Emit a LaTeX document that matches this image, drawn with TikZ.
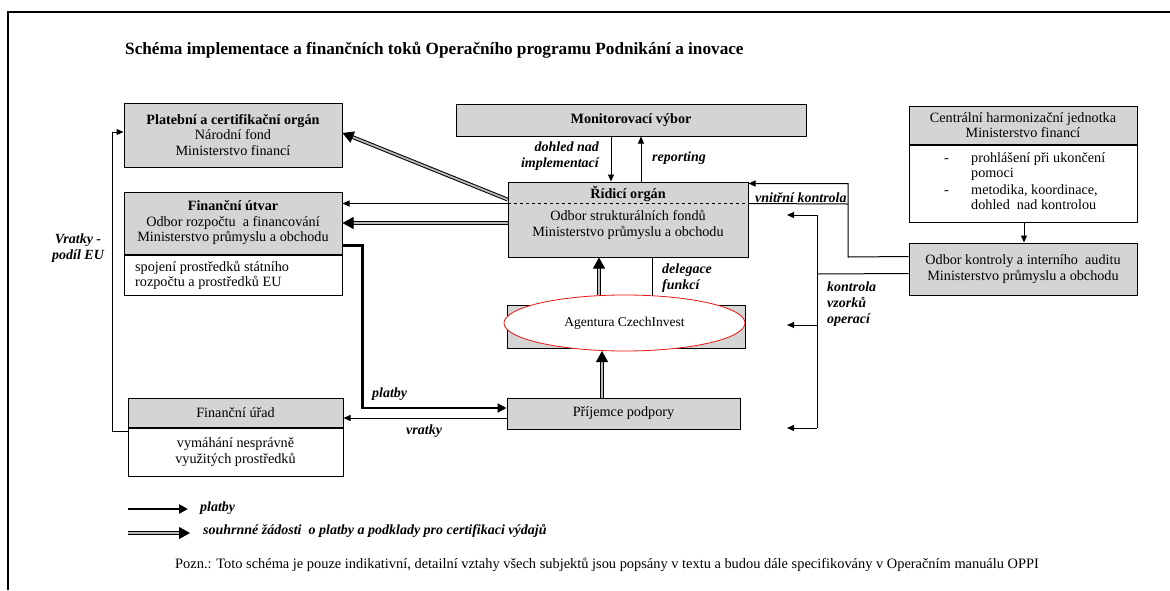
\documentclass[tikz,border=0pt]{standalone}
\usepackage{fontspec}
\setmainfont{Liberation Serif}
\usepackage{tikz}
\usetikzlibrary{positioning, arrows.meta, shapes.geometric, calc}
\definecolor{gr}{gray}{0.83}
\definecolor{ovalred}{RGB}{235,20,20}

\begin{document}
\begin{tikzpicture}[x=1pt, y=-1pt,
  box/.style={draw, fill=gr, line width=1pt, align=center, inner sep=0pt, font=\fontsize{14.2}{15.5}\selectfont},
  note/.style={draw, fill=white, line width=1pt, inner sep=0pt, font=\fontsize{14.2}{15.5}\selectfont},
  txt/.style={inner sep=0pt, font=\fontsize{14.2}{15.5}\selectfont},
  lab/.style={inner sep=0pt, font=\fontsize{14}{16}\selectfont\bfseries\itshape},
  pay/.style={line width=2.2pt, -{Triangle[length=9pt, width=9pt]}},
  req/.style={double=gray!55, double distance=1.8pt, line width=1pt, -{Triangle[length=11pt, width=12pt]}},
  ctl/.style={line width=1pt, -{Triangle[length=7pt, width=6pt]}}
]
\useasboundingbox (0,0) rectangle (1170,590);
\draw[line width=2pt] (8,590) -- (8,12) -- (1170,12);

% title
\node[anchor=west, inner sep=0pt, font=\fontsize{17.2}{20}\selectfont\bfseries] (title) at (125,50)
  {Schéma implementace a finančních toků Operačního programu Podnikání a inovace};

% boxes
\node[box, minimum width=218pt, minimum height=64pt] (pco) at (233,135)
  {\textbf{Platební a certifikační orgán}\\Národní fond\\Ministerstvo financí};
\node[box, minimum width=350pt, minimum height=32pt] (mv) at (631,120) {\textbf{Monitorovací výbor}};
\node[box, minimum width=228pt, minimum height=38pt] (chj) at (1023,125)
  {Centrální harmonizační jednotka\\Ministerstvo financí};
\node[note, minimum width=228pt, minimum height=77pt, below=0pt of chj] (chjw) {};
\node[txt, anchor=west, align=left] (chjt) at (944,183)
  {\begin{tabular}{@{}p{27pt}@{}l@{}}
   -& prohlášení při ukončení\\
    & pomoci\\[1pt]
   -& metodika, koordinace,\\
    & dohled\ \ nad kontrolou
   \end{tabular}};
\node[box, minimum width=218pt, minimum height=62pt] (fu) at (233,223)
  {\textbf{Finanční útvar}\\Odbor rozpočtu\ \ a financování\\Ministerstvo průmyslu a obchodu};
\node[note, minimum width=218pt, minimum height=40pt, below=0pt of fu] (fuw) {};
\node[txt, anchor=west, align=left] (fut) at (135,275.5)
  {spojení prostředků státního\\rozpočtu a prostředků EU};
\node[box, minimum width=240pt, minimum height=75pt] (ro) at (628,219.5) {};
\draw[dashed, line width=0.8pt] ($(ro.north west)+(0,22)$) -- ($(ro.north east)+(0,22)$);
\node[txt] (rohead) at (628,194) {\textbf{Řídicí orgán}};
\node[txt, align=center] (robody) at (628,225) {Odbor strukturálních fondů\\Ministerstvo průmyslu a obchodu};
\node[box, minimum width=228pt, minimum height=52pt] (oka) at (1023,269)
  {Odbor kontroly a interního\ \ auditu\\Ministerstvo průmyslu a obchodu};
\node[box, minimum width=238pt, minimum height=43pt] (ci) at (626,326.5) {};
\node[ellipse, draw=ovalred, fill=white, line width=0.8pt, minimum width=241pt, minimum height=56pt, inner sep=0pt,
  font=\fontsize{13.5}{15}\selectfont] (ciov) at (624.5,323) {Agentura CzechInvest};
\node[box, minimum width=233pt, minimum height=31pt] (pp) at (623.5,413.5) {Příjemce podpory};
\node[box, minimum width=215pt, minimum height=29pt] (fur) at (235.5,412.5) {Finanční úřad};
\node[note, minimum width=215pt, minimum height=48pt, below=0pt of fur, align=center] (furw)
  {vymáhání nesprávně\\využitých prostředků};

% connectors
\draw[req] ($(ro.north west)+(0,18)$) -- ($(pco.east)+(0,-2)$);
\draw[ctl] ($(ro.north west)+(0,22)$) -- ($(fu.north east)+(0,12)$);
\draw[req] (ro.west |- fu.east) -- (fu.east);
\draw[pay] ($(fu.south east)+(0,-9)$) -- ++(20,0) |- ($(pp.west)+(0,-5.5)$);
\draw[ctl] ($(pp.west)+(0,4.5)$) -- ($(fur.east)+(0,5.5)$);
\draw[ctl] ($(fur.south west)+(0,4)$) -- ++(-15,0) |- ($(pco.west)+(0,-3)$);
\draw[ctl] (mv.south -| 611,0) -- (ro.north -| 611,0);
\draw[ctl] (ro.north -| 641,0) -- (mv.south -| 641,0);
\draw[req] (pp.north -| 602,0) -- (602,351);
\draw[req] (599,295) -- (ro.south -| 599,0);
\draw[line width=1pt] (652,296) -- (ro.south -| 652,0);
\draw[ctl] (chjw.south -| 1024,0) -- (oka.north -| 1024,0);
\draw[ctl] ($(oka.north west)+(0,14)$) -- (848,257) |- ($(ro.north east)+(0,2)$);
\draw[line width=1pt] ($(ro.north east)+(0,22)$) -- (848,204);
\draw[line width=1pt] ($(oka.north west)+(0,31)$) -- (817,274);
\draw[line width=1pt] (817,215) -- (817,428);
\foreach \y in {215,325,428}{
  \coordinate (kv\y) at (787,\y);
  \draw[ctl] (817,\y) -- (kv\y);
}

% labels
\node[lab, anchor=east, align=right] (dohled) at (599,156) {dohled nad\\implementací};
\node[lab, anchor=west] (reporting) at (652,158) {reporting};
\node[lab, anchor=west] (vnitrni) at (755,198) {vnitřní kontrola};
\node[lab, anchor=west, align=left] (delegace) at (662,278) {delegace\\funkcí};
\node[lab, anchor=west, align=left] (vzorky) at (827,304) {kontrola\\vzorků\\operací};
\node[lab, anchor=west] (platby) at (372,394) {platby};
\node[lab, anchor=west] (vratky) at (406,431) {vratky};
\node[lab, align=center] (podil) at (78,248) {Vratky -\\podíl EU};

% legend
\coordinate (lp1) at (128,509);
\coordinate (lp2) at (188,509);
\coordinate (lr1) at (128,533);
\coordinate (lr2) at (190,533);
\draw[pay] (lp1) -- (lp2);
\draw[req] (lr1) -- (lr2);
\node[lab, anchor=west] (legplatby) at (200,508) {platby};
\node[lab, anchor=west] (legzad) at (203,531) {souhrnné žádosti\ \ o platby a podklady pro certifikaci výdajů};
\node[txt, anchor=west, font=\fontsize{14.4}{16}\selectfont] (pozn) at (175,565)
  {Pozn.: Toto schéma je pouze indikativní, detailní vztahy všech subjektů jsou popsány v textu a budou dále specifikovány v Operačním manuálu OPPI};
\end{tikzpicture}
\end{document}
